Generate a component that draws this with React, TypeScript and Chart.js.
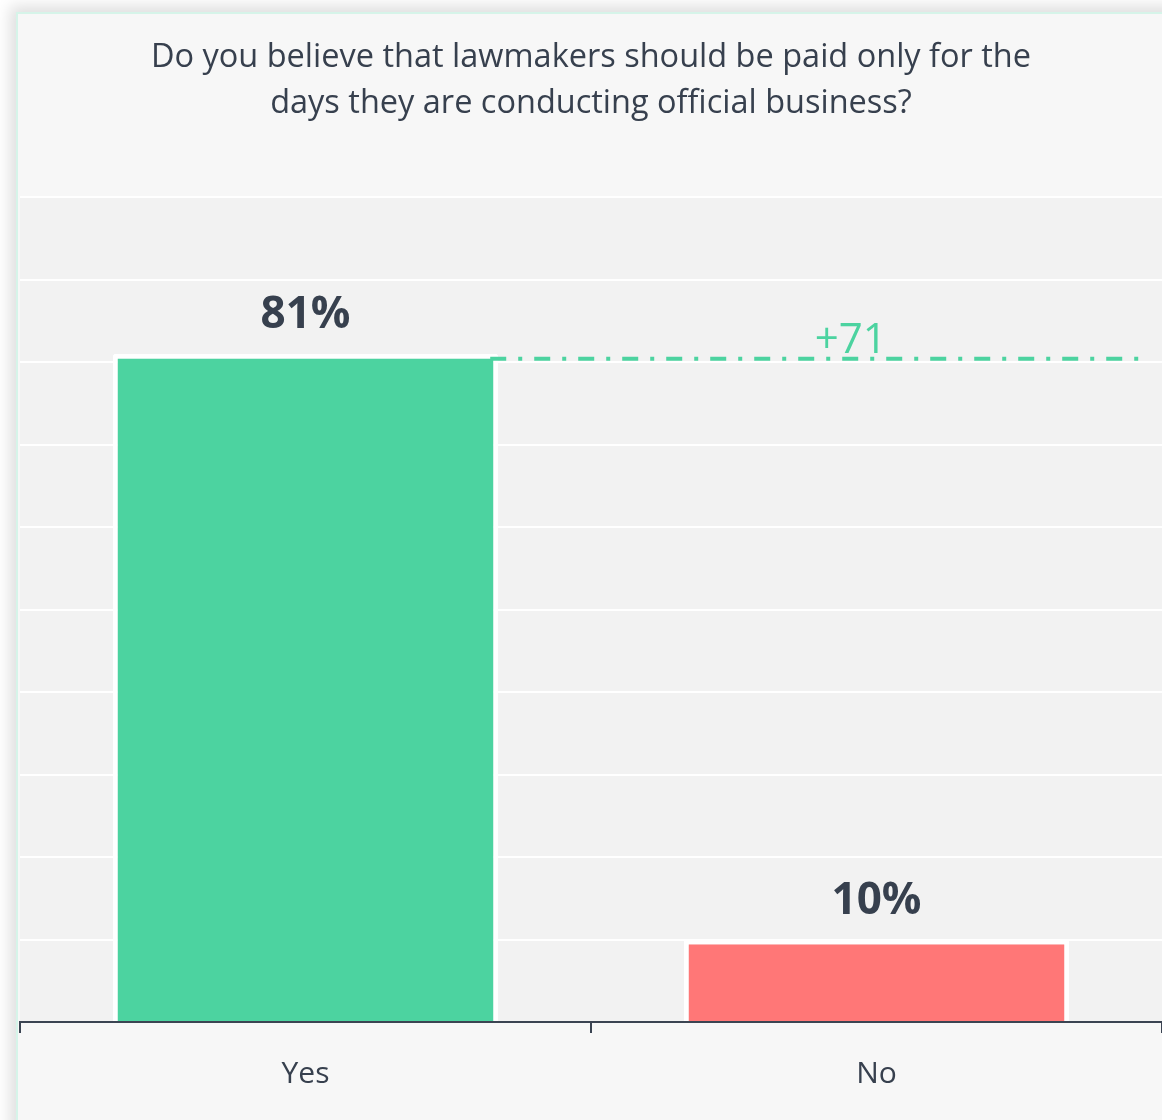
import React, { useEffect, useRef } from "react";
import { Chart, registerables } from "chart.js";

Chart.register(...registerables);

const titleLines = [
  "Do you believe that lawmakers should be paid only for the",
  "days they are conducting official business?",
];
const categories = ["Yes", "No"];
const values = [81, 10];
const barColors = ["#4CD3A0", "#FF7777"];
const diffLabel = "+71";
const yMin = 0;
const yMax = 100;
const yStep = 10;

const FONT = "'Open Sans', 'Noto Sans', sans-serif";
const TEXT = "#37404E";

const bgPlugin = {
  id: "plotBg",
  beforeDraw(chart: any) {
    const { ctx, chartArea } = chart;
    ctx.save();
    ctx.fillStyle = "#F2F2F2";
    ctx.fillRect(chartArea.left, chartArea.top, chartArea.right - chartArea.left, chartArea.bottom - chartArea.top);
    ctx.restore();
  },
};

const labelPlugin = {
  id: "barLabels",
  afterDatasetsDraw(chart: any) {
    const { ctx, chartArea } = chart;
    const meta = chart.getDatasetMeta(0);
    ctx.save();
    ctx.fillStyle = TEXT;
    ctx.font = `bold 44px ${FONT}`;
    ctx.textAlign = "center";
    ctx.textBaseline = "alphabetic";
    meta.data.forEach((bar: any, i: number) => {
      ctx.fillText(`${values[i]}%`, bar.x, bar.y - 26);
    });
    // difference line
    const yes = meta.data[0];
    const y = chart.scales.y.getPixelForValue(values[0]) + 5;
    const x0 = yes.x + yes.width / 2 - 8;
    const x1 = chartArea.right - 22;
    ctx.strokeStyle = barColors[0];
    ctx.lineWidth = 4;
    ctx.setLineDash([16, 12, 4, 12]);
    ctx.beginPath();
    ctx.moveTo(x0, y);
    ctx.lineTo(x1, y);
    ctx.stroke();
    ctx.setLineDash([]);
    ctx.fillStyle = barColors[0];
    ctx.font = `42px ${FONT}`;
    ctx.fillText(diffLabel, x0 + 0.555 * (x1 - x0), y - 6);
    ctx.restore();
  },
};

export default function App() {
  const ref = useRef<HTMLCanvasElement | null>(null);
  useEffect(() => {
    if (!ref.current) return;
    const chart = new Chart(ref.current, {
      type: "bar",
      data: {
        labels: categories,
        datasets: [
          {
            data: values,
            backgroundColor: barColors,
            borderColor: "#FFFFFF",
            borderWidth: 5,
            borderSkipped: "bottom",
            borderRadius: 3,
            barPercentage: 0.9,
            categoryPercentage: 0.75,
          },
        ],
      },
      options: {
        animation: false,
        responsive: false,
        layout: { padding: { left: 2, right: 2, top: 0, bottom: 5 } },
        plugins: {
          legend: { display: false },
          tooltip: { enabled: false },
          title: {
            display: true,
            text: titleLines,
            color: TEXT,
            font: { family: FONT, size: 32.5, weight: "normal", lineHeight: 1.4 },
            padding: { top: 21, bottom: 71 },
          },
        },
        scales: {
          x: {
            grid: {
              display: true,
              drawOnChartArea: false,
              drawTicks: true,
              tickLength: 11,
              color: "#3B4452",
              lineWidth: 2,
              offset: true,
            },
            border: { display: true, color: "#3B4452", width: 2 },
            ticks: { color: TEXT, font: { family: FONT, size: 30 }, padding: 23 },
          },
          y: {
            min: yMin,
            max: yMax,
            ticks: { display: false, stepSize: yStep },
            grid: { color: "#FFFFFF", lineWidth: 2, drawTicks: false },
            border: { display: false },
          },
        },
      },
      plugins: [bgPlugin, labelPlugin],
    });
    return () => chart.destroy();
  }, []);

  return (
    <div style={{ position: "fixed", left: 0, top: 0, width: 1162, height: 1120, overflow: "hidden", background: "#FFFFFF" }}>
      <div
        style={{
          position: "absolute",
          left: 16,
          top: 12,
          width: 1170,
          height: 1130,
          background: "#F7F7F7",
          border: "2px solid #D6F4E9",
          boxShadow: "0 0 14px 6px rgba(0,0,0,0.13)",
        }}
      >
        <canvas ref={ref} width={1146} height={1106} style={{ display: "block", width: 1146, height: 1106 }} />
      </div>
    </div>
  );
}
